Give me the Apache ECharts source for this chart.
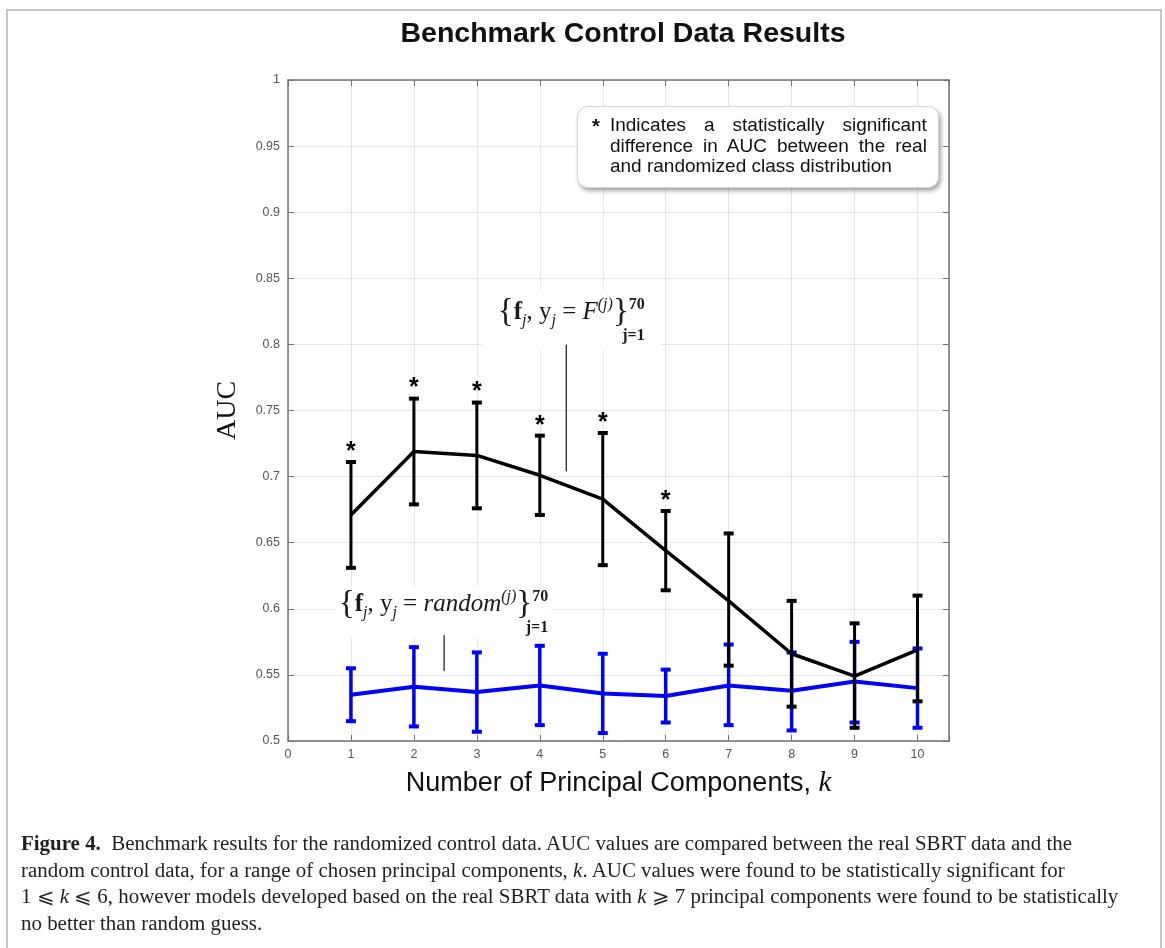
<!DOCTYPE html>
<html>
<head>
<meta charset="utf-8">
<script src="https://cdn.jsdelivr.net/npm/echarts@6/dist/echarts.min.js"></script>
<style>
  html, body { margin: 0; padding: 0; background: #fff; }
  #wrap { position: relative; width: 1165px; height: 948px; overflow: hidden; }
  #chart { position: absolute; left: 0; top: 0; width: 1165px; height: 948px; }
  #frame {
    position: absolute; left: 6px; top: 9px; width: 1156px; height: 980px;
    border: 2px solid #c6c6c6; box-sizing: border-box; pointer-events: none;
  }
  #note {
    position: absolute; box-sizing: border-box; background: #fff;
    border: 1px solid #d6d6d6; border-radius: 11px;
    box-shadow: 2px 3px 4px rgba(0, 0, 0, 0.35);
    font-family: "Liberation Sans", Arial, sans-serif; font-size: 19px;
    line-height: 20.5px; color: #111;
  }
  #note .star { position: absolute; left: 14px; top: 9px; font-weight: bold; font-size: 20px; }
  #note .txt { position: absolute; left: 32px; right: 11px; top: 8px; }
  #note .j { text-align: justify; text-align-last: justify; }
  #caption {
    position: absolute; left: 21px; top: 830px; transform-origin: 0 0;
    font-family: "Liberation Serif", "Times New Roman", serif; font-size: 20px;
    line-height: 26.5px; color: #231f20; white-space: nowrap;
  }
  #caption b { font-weight: bold; }
</style>
</head>
<body>
<div id="wrap">
  <div id="chart"></div>
  <div id="note">
    <span class="star">*</span>
    <div class="txt">
      <div class="j">Indicates a statistically significant</div>
      <div class="j">difference in AUC between the real</div>
      <div>and randomized class distribution</div>
    </div>
  </div>
  <div id="caption">
    <div><span id="cap1"><b>Figure 4.</b>&nbsp; Benchmark results for the randomized control data. AUC values are compared between the real SBRT data and the</span></div>
    <div>random control data, for a range of chosen principal components, <i>k</i>. AUC values were found to be statistically significant for</div>
    <div>1 &#x2A7D; <i>k</i> &#x2A7D; 6, however models developed based on the real SBRT data with <i>k</i> &#x2A7E; 7 principal components were found to be statistically</div>
    <div>no better than random guess.</div>
  </div>
  <div id="frame"></div>
</div>
<script>
// number of principal components
const ks = [1, 2, 3, 4, 5, 6, 7, 8, 9, 10];

// real SBRT data: mean AUC and error bar ends
const realMean = [0.671, 0.719, 0.716, 0.701, 0.683, 0.644, 0.606, 0.566, 0.549, 0.569];
const realLow = [0.631, 0.679, 0.676, 0.671, 0.633, 0.614, 0.557, 0.526, 0.510, 0.530];
const realHigh = [0.711, 0.759, 0.756, 0.731, 0.733, 0.674, 0.657, 0.606, 0.589, 0.610];

// randomized control data
const randMean = [0.535, 0.541, 0.537, 0.542, 0.536, 0.534, 0.542, 0.538, 0.545, 0.540];
const randLow = [0.515, 0.511, 0.507, 0.512, 0.506, 0.514, 0.512, 0.508, 0.514, 0.510];
const randHigh = [0.555, 0.571, 0.567, 0.572, 0.566, 0.554, 0.573, 0.567, 0.575, 0.570];

// k values marked as significant
const significantK = [1, 2, 3, 4, 5, 6];

// annotation anchors (data coords)
const realTagAt = [4.50, 0.8185];
const randTagAt = [2.47, 0.5976];
const realPointer = [[4.42, 0.7998], [4.42, 0.704]];
const randPointer = [[2.48, 0.580], [2.48, 0.553]];
const noteCorners = [[4.59, 0.980], [10.34, 0.918]];

const AXIS_COLOR = "#727272";
const GRID_COLOR = "#e6e6e6";

function errorBars(color, barWidth, capWidth, capHalf) {
  return function (params, api) {
    const x = api.value(0);
    const lo = api.coord([x, api.value(1)]);
    const hi = api.coord([x, api.value(2)]);
    const bar = { stroke: color, lineWidth: barWidth };
    const cap = { stroke: color, lineWidth: capWidth };
    return {
      type: "group",
      children: [
        { type: "line", shape: { x1: lo[0], y1: lo[1], x2: hi[0], y2: hi[1] }, style: bar },
        { type: "line", shape: { x1: lo[0] - capHalf, y1: lo[1], x2: lo[0] + capHalf, y2: lo[1] }, style: cap },
        { type: "line", shape: { x1: hi[0] - capHalf, y1: hi[1], x2: hi[0] + capHalf, y2: hi[1] }, style: cap }
      ]
    };
  };
}

const INK = "#1a1a1a";
const mathRich = {
  b: { fontFamily: "Liberation Serif", fontWeight: "bold", fontSize: 25, color: INK, lineHeight: 32 },
  n: { fontFamily: "Liberation Serif", fontSize: 25, color: INK, lineHeight: 32 },
  i: { fontFamily: "Liberation Serif", fontStyle: "italic", fontSize: 25, color: INK, lineHeight: 32 },
  s: { fontFamily: "Liberation Serif", fontStyle: "italic", fontSize: 16, color: INK, lineHeight: 15, verticalAlign: "bottom" },
  p: { fontFamily: "Liberation Serif", fontStyle: "italic", fontSize: 16, color: INK, lineHeight: 16, verticalAlign: "top" },
  pb: { fontFamily: "Liberation Serif", fontWeight: "bold", fontSize: 16, color: INK, lineHeight: 16, verticalAlign: "top" },
  r: { fontFamily: "Liberation Serif", fontWeight: "bold", fontSize: 16, color: INK, lineHeight: 15, align: "right" }
};

function mathLabel(body, pad) {
  return {
    show: true,
    position: "inside",
    formatter: "{{b|f}{s|j}{n|, y}{s|j}{n| = }" + body + "}{pb|70}\n{r|j=1}",
    fontFamily: "Liberation Serif",
    fontSize: 33,
    lineHeight: 32,
    color: INK,
    backgroundColor: "#fff",
    padding: pad,
    rich: mathRich
  };
}

const chart = echarts.init(document.getElementById("chart"));

const option = {
  animation: false,
  title: {
    text: "Benchmark Control Data Results",
    left: 618,
    top: 15,
    textAlign: "center",
    textStyle: { fontFamily: "Liberation Sans", fontWeight: "bold", fontSize: 28.5, color: "#111" }
  },
  grid: { left: 288, top: 80, width: 661, height: 661 },
  xAxis: [
    {
      type: "value", min: 0, max: 10.5, interval: 1, position: "bottom",
      name: "{t|Number of Principal Components, }{k|k}",
      nameLocation: "middle", nameGap: 28,
      nameTextStyle: {
        rich: {
          t: { fontFamily: "Liberation Sans", fontSize: 27, color: "#111" },
          k: { fontFamily: "Liberation Serif", fontStyle: "italic", fontSize: 29, color: "#111" }
        }
      },
      axisLine: { show: true, onZero: false, lineStyle: { color: AXIS_COLOR, width: 1.5 } },
      axisTick: { show: true, inside: true, length: 6, lineStyle: { color: AXIS_COLOR } },
      axisLabel: {
        fontFamily: "Liberation Sans", fontSize: 12.5, color: "#555", margin: 7,
        formatter: v => (Number.isInteger(v) ? String(v) : "")
      },
      splitLine: { show: true, lineStyle: { color: GRID_COLOR, width: 1 } }
    },
    {
      type: "value", min: 0, max: 10.5, interval: 1, position: "top",
      axisLine: { show: true, onZero: false, lineStyle: { color: AXIS_COLOR, width: 1.5 } },
      axisTick: { show: true, inside: true, length: 6, lineStyle: { color: AXIS_COLOR } },
      axisLabel: { show: false },
      splitLine: { show: false }
    }
  ],
  yAxis: [
    {
      type: "value", min: 0.5, max: 1, interval: 0.05, position: "left",
      name: "AUC", nameLocation: "middle", nameGap: 46,
      nameTextStyle: { fontFamily: "Liberation Serif", fontSize: 28, color: "#111" },
      axisLine: { show: true, onZero: false, lineStyle: { color: AXIS_COLOR, width: 1.5 } },
      axisTick: { show: true, inside: true, length: 6, lineStyle: { color: AXIS_COLOR } },
      axisLabel: {
        fontFamily: "Liberation Sans", fontSize: 12.5, color: "#555", margin: 8,
        formatter: v => String(+v.toFixed(2))
      },
      splitLine: { show: true, lineStyle: { color: GRID_COLOR, width: 1 } }
    },
    {
      type: "value", min: 0.5, max: 1, interval: 0.05, position: "right",
      axisLine: { show: true, onZero: false, lineStyle: { color: AXIS_COLOR, width: 1.5 } },
      axisTick: { show: true, inside: true, length: 6, lineStyle: { color: AXIS_COLOR } },
      axisLabel: { show: false },
      splitLine: { show: false }
    }
  ],
  series: [
    {
      name: "Random error",
      type: "custom",
      renderItem: errorBars("#0000ff", 3.5, 4, 5),
      data: ks.map((k, i) => [k, randLow[i], randHigh[i]]),
      encode: { x: 0, y: [1, 2] },
      z: 2
    },
    {
      name: "Random",
      type: "line",
      data: ks.map((k, i) => [k, randMean[i]]),
      symbol: "none",
      lineStyle: { color: "#0000ff", width: 4 },
      z: 2
    },
    {
      name: "Real error",
      type: "custom",
      renderItem: errorBars("#000", 3, 4, 5),
      data: ks.map((k, i) => [k, realLow[i], realHigh[i]]),
      encode: { x: 0, y: [1, 2] },
      z: 3
    },
    {
      name: "Real",
      type: "line",
      data: ks.map((k, i) => [k, realMean[i]]),
      symbol: "none",
      lineStyle: { color: "#000", width: 3.5 },
      z: 3
    },
    {
      name: "Significant",
      type: "scatter",
      data: significantK.map(k => [k, realHigh[k - 1]]),
      symbolSize: 1,
      itemStyle: { color: "rgba(0,0,0,0)", opacity: 1 },
      label: {
        show: true, position: "top", distance: -3, formatter: "*",
        fontFamily: "Liberation Sans", fontWeight: "bold", fontSize: 25, color: "#000"
      },
      silent: true,
      z: 4
    },
    {
      name: "Real pointer",
      type: "line",
      data: realPointer,
      symbol: "none",
      lineStyle: { color: "#111", width: 1.2 },
      silent: true,
      z: 4
    },
    {
      name: "Random pointer",
      type: "line",
      data: randPointer,
      symbol: "none",
      lineStyle: { color: "#111", width: 1.2 },
      silent: true,
      z: 4
    },
    {
      name: "Real tag",
      type: "scatter",
      data: [realTagAt],
      symbolSize: 1,
      itemStyle: { color: "rgba(0,0,0,0)", opacity: 1 },
      label: mathLabel("{i|F}{p|(j)}", [6, 16, 6, 16]),
      silent: true,
      z: 1
    },
    {
      name: "Random tag",
      type: "scatter",
      data: [randTagAt],
      symbolSize: 1,
      itemStyle: { color: "rgba(0,0,0,0)", opacity: 1 },
      label: mathLabel("{i|random}{p|(j)}", [2, 3, 2, 3]),
      silent: true,
      z: 1
    }
  ]
};

chart.setOption(option);

// place the note box from its data-space corners
const c1 = chart.convertToPixel({ gridIndex: 0 }, noteCorners[0]);
const c2 = chart.convertToPixel({ gridIndex: 0 }, noteCorners[1]);
const note = document.getElementById("note");
note.style.left = c1[0] + "px";
note.style.top = c1[1] + "px";
note.style.width = (c2[0] - c1[0]) + "px";
note.style.height = (c2[1] - c1[1]) + "px";

// squeeze the caption to the printed line length
const cap = document.getElementById("caption");
const w1 = document.getElementById("cap1").getBoundingClientRect().width;
cap.style.transform = "scaleX(" + (1051 / w1) + ")";
</script>
</body>
</html>
